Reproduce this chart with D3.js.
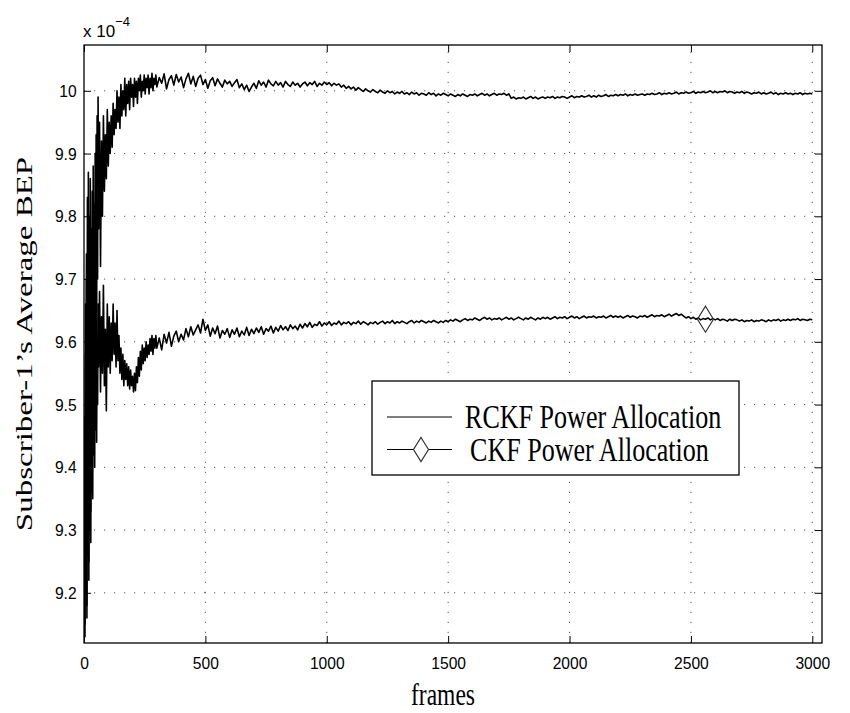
<!DOCTYPE html>
<html>
<head>
<meta charset="utf-8">
<script src="https://cdn.jsdelivr.net/npm/d3@7/dist/d3.min.js"></script>
<style>
  html, body { margin: 0; background: #fff; }
  svg { display: block; }
</style>
</head>
<body>
<svg id="chart"></svg>
<script>
// sample frames: dense at the start where the averages swing, sparser later
const frames = [].concat(d3.range(0, 60, 2), d3.range(60, 300, 4), d3.range(300, 3001, 10));

// Subscriber-1 average BEP (x 1e-4)
const rckf = [
  9.12, 9.48, 9.15, 9.66, 9.22, 9.74, 9.18, 9.83, 9.30, 9.87, 9.25, 9.80, 9.40, 9.86, 9.33,
  9.78, 9.52, 9.84, 9.45, 9.88, 9.58, 9.82, 9.50, 9.90, 9.62, 9.93, 9.60, 9.96, 9.70, 9.99,
  9.78, 9.95, 9.72, 9.92, 9.80, 9.96, 9.84, 9.93, 9.86, 9.97, 9.88, 9.95, 9.90, 9.96, 9.91,
  9.98, 9.93, 9.97, 9.94, 10.00, 9.95, 9.99, 9.94, 10.01, 9.96, 10.00, 9.97, 10.02, 9.96, 10.01,
  9.98, 10.015, 9.97, 10.02, 9.99, 10.01, 9.975, 10.02, 9.99, 10.015, 9.98, 10.02, 10.00, 10.025, 9.99,
  10.015, 10.00, 10.025, 9.995, 10.02, 10.005, 10.025, 9.995, 10.02, 10.005, 10.028, 10.00, 10.02, 10.01, 10.025,
  10.006, 10.021, 10.012, 10.027, 10.003, 10.018, 10.024, 10.009, 10.026, 10.014,
  10.022, 10.005, 10.019, 10.028, 10.011, 10.023, 10.007, 10.02, 10.025, 10.01,
  10.018, 10.004, 10.016, 10.021, 10.008, 10.019, 10.012, 10.006, 10.017, 10.011,
  10.015, 10.007, 10.013, 10.018, 10.005, 10.011, 10.002, 10.009, 9.999, 10.006,
  10.012, 10.004, 10.016, 10.009, 10.014, 10.006, 10.017, 10.011, 10.008, 10.015,
  10.009, 10.013, 10.006, 10.015, 10.01, 10.007, 10.014, 10.009, 10.012, 10.006,
  10.011, 10.014, 10.008, 10.013, 10.01, 10.015, 10.007, 10.012, 10.009, 10.014,
  10.01, 10.013, 10.008, 10.012, 10.009, 10.011, 10.006, 10.009, 10.004, 10.007,
  10.003, 10.006, 10.001, 10.005, 10.002, 9.999, 10.003, 10.0, 9.998, 10.002,
  9.999, 9.997, 10.001, 9.998, 9.996, 10.0, 9.997, 9.999, 9.995, 9.998,
  9.996, 9.999, 9.995, 9.997, 9.994, 9.998, 9.995, 9.997, 9.993, 9.996,
  9.995, 9.993, 9.997, 9.994, 9.996, 9.992, 9.995, 9.993, 9.996, 9.994,
  9.992, 9.995, 9.993, 9.991, 9.994, 9.992, 9.995, 9.993, 9.991, 9.994,
  9.993, 9.995, 9.992, 9.994, 9.996, 9.993, 9.995, 9.992, 9.994, 9.996,
  9.993, 9.995, 9.994, 9.996, 9.993, 9.995, 9.988, 9.99, 9.987, 9.989,
  9.988, 9.99, 9.987, 9.989, 9.991, 9.988, 9.99, 9.987, 9.989, 9.99,
  9.988, 9.99, 9.989, 9.991, 9.988, 9.99, 9.989, 9.991, 9.99, 9.988,
  9.99, 9.992, 9.989, 9.991, 9.99, 9.992, 9.99, 9.991, 9.993, 9.99,
  9.992, 9.99, 9.993, 9.991, 9.992, 9.994, 9.991, 9.993, 9.992, 9.994,
  9.992, 9.994, 9.993, 9.995, 9.992, 9.994, 9.993, 9.995, 9.993, 9.994,
  9.995, 9.993, 9.995, 9.994, 9.996, 9.994, 9.995, 9.997, 9.994, 9.996,
  9.995, 9.997, 9.995, 9.996, 9.998, 9.995, 9.997, 9.996, 9.998, 9.996,
  9.997, 9.999, 9.996, 9.998, 9.997, 9.999, 9.997, 9.998, 10.0, 9.997,
  9.999, 9.997, 9.999, 9.998, 10.0, 9.997, 9.999, 9.998, 9.996, 9.998,
  9.997, 9.999, 9.996, 9.998, 9.997, 9.995, 9.997, 9.996, 9.998, 9.995,
  9.997, 9.995, 9.996, 9.998, 9.995, 9.997, 9.994, 9.996, 9.995, 9.997,
  9.995, 9.996, 9.994, 9.996, 9.995, 9.997, 9.994, 9.996, 9.995, 9.996,
  9.995
];

const ckf = [
  9.14, 9.40, 9.13, 9.58, 9.20, 9.70, 9.16, 9.62, 9.26, 9.76, 9.22, 9.68, 9.30, 9.72, 9.28,
  9.66, 9.36, 9.74, 9.35, 9.64, 9.42, 9.70, 9.40, 9.62, 9.46, 9.68, 9.44, 9.60, 9.50, 9.66,
  9.56, 9.68, 9.52, 9.64, 9.55, 9.69, 9.53, 9.62, 9.49, 9.66, 9.56, 9.64, 9.55, 9.63, 9.57,
  9.66, 9.58, 9.63, 9.56, 9.65, 9.57, 9.61, 9.55, 9.59, 9.54, 9.58, 9.53, 9.57, 9.54, 9.565,
  9.53, 9.56, 9.525, 9.555, 9.53, 9.545, 9.52, 9.55, 9.522, 9.56, 9.535, 9.575, 9.545, 9.585, 9.555,
  9.595, 9.565, 9.59, 9.57, 9.60, 9.575, 9.595, 9.58, 9.605, 9.585, 9.61, 9.58, 9.605, 9.59, 9.61,
  9.59, 9.606, 9.587, 9.612, 9.598, 9.615, 9.593, 9.609, 9.617, 9.6,
  9.612, 9.603, 9.621, 9.608, 9.624, 9.611, 9.619, 9.627, 9.614, 9.636,
  9.618, 9.627, 9.609, 9.622, 9.613, 9.625, 9.606, 9.618, 9.612, 9.621,
  9.607, 9.619, 9.612, 9.622, 9.608, 9.617, 9.611, 9.623, 9.61, 9.62,
  9.613, 9.622, 9.615, 9.624, 9.612, 9.621, 9.617, 9.625, 9.614, 9.623,
  9.617, 9.626, 9.619, 9.624, 9.618, 9.627, 9.621, 9.625, 9.619, 9.628,
  9.622, 9.629, 9.624, 9.631, 9.623, 9.628, 9.626, 9.632, 9.625, 9.63,
  9.627, 9.632, 9.626, 9.63, 9.628, 9.633, 9.627, 9.631, 9.629, 9.632,
  9.627, 9.631, 9.629, 9.633, 9.628, 9.632, 9.63, 9.627, 9.631, 9.629,
  9.632, 9.628, 9.631, 9.633, 9.629, 9.632, 9.63, 9.634, 9.629, 9.632,
  9.63, 9.633, 9.631, 9.629, 9.632, 9.634, 9.63, 9.633, 9.631, 9.634,
  9.632, 9.63, 9.633, 9.631, 9.634, 9.632, 9.63, 9.633, 9.631, 9.634,
  9.632, 9.635, 9.633, 9.636, 9.634, 9.632, 9.635, 9.637, 9.634, 9.636,
  9.635, 9.638, 9.636, 9.634, 9.637, 9.639, 9.636, 9.638, 9.635, 9.637,
  9.636, 9.638, 9.635, 9.637, 9.639, 9.636, 9.638, 9.635, 9.637, 9.639,
  9.637, 9.635, 9.638, 9.636, 9.639, 9.637, 9.635, 9.638, 9.636, 9.639,
  9.637, 9.639, 9.636, 9.638, 9.64, 9.637, 9.639, 9.638, 9.64, 9.637,
  9.639, 9.641, 9.638, 9.64, 9.637, 9.639, 9.641, 9.638, 9.64, 9.639,
  9.641, 9.638, 9.64, 9.639, 9.641, 9.638, 9.64, 9.642, 9.639, 9.641,
  9.639, 9.641, 9.638, 9.64, 9.642, 9.639, 9.641, 9.64, 9.638, 9.641,
  9.64, 9.642, 9.639, 9.641, 9.643, 9.64, 9.642, 9.641, 9.643, 9.64,
  9.642, 9.644, 9.641, 9.643, 9.645, 9.642, 9.644, 9.641, 9.638, 9.64,
  9.637, 9.639, 9.636, 9.638, 9.635, 9.637, 9.636, 9.638, 9.635, 9.637,
  9.635, 9.637, 9.634, 9.636, 9.635, 9.633, 9.636, 9.634, 9.636, 9.635,
  9.633, 9.635, 9.632, 9.634, 9.633, 9.635, 9.632, 9.634, 9.633, 9.635,
  9.634, 9.632, 9.635, 9.633, 9.635, 9.634, 9.636, 9.633, 9.635, 9.634,
  9.636, 9.634, 9.636, 9.635, 9.637, 9.634, 9.636, 9.635, 9.634, 9.636,
  9.635
];

// matlab puts one marker on the CKF curve
const ckfMarkerFrames = [2560];

const xTicks = [0, 500, 1000, 1500, 2000, 2500, 3000];
const xTickLabels = ['0', '500', '1000', '1500', '2000', '2500', '3000'];
const yTicks = [9.2, 9.3, 9.4, 9.5, 9.6, 9.7, 9.8, 9.9, 10];
const yTickLabels = ['9.2', '9.3', '9.4', '9.5', '9.6', '9.7', '9.8', '9.9', '10'];
const legendLabels = ['RCKF Power Allocation', 'CKF Power Allocation'];

// layout
const W = 850, H = 713;
const plot = {left: 84, right: 822, top: 45, bottom: 643};
const xLim = [0, 3040], yLim = [9.12, 10.073];
const SERIF = '"Liberation Serif", "Times New Roman", serif';
const SANS = '"Liberation Sans", Arial, Helvetica, sans-serif';

const svg = d3.select('#chart').attr('width', W).attr('height', H);

const x = d3.scaleLinear().domain(xLim).range([plot.left, plot.right]);
const y = d3.scaleLinear().domain(yLim).range([plot.bottom, plot.top]);

// dotted grid
const grid = svg.append('g').attr('stroke', '#555').attr('stroke-width', 1)
    .attr('stroke-dasharray', '1.2,8.8').attr('fill', 'none');
grid.selectAll('.gx').data(xTicks.slice(1)).enter().append('line')
    .attr('x1', d => x(d)).attr('x2', d => x(d))
    .attr('y1', plot.bottom).attr('y2', plot.top);
grid.selectAll('.gy').data(yTicks).enter().append('line')
    .attr('x1', plot.left).attr('x2', plot.right)
    .attr('y1', d => y(d)).attr('y2', d => y(d));

// curves
const line = d3.line().x(d => x(d[0])).y(d => y(d[1]));
svg.append('clipPath').attr('id', 'clip').append('rect')
    .attr('x', plot.left).attr('y', plot.top)
    .attr('width', plot.right - plot.left).attr('height', plot.bottom - plot.top);

const curves = svg.append('g').attr('clip-path', 'url(#clip)');
[rckf, ckf].forEach(vals => {
    curves.append('path')
        .datum(frames.map((f, i) => [f, vals[i]]))
        .attr('d', line)
        .attr('fill', 'none')
        .attr('stroke', '#000')
        .attr('stroke-width', 1.6)
        .attr('stroke-linejoin', 'round');
});

// diamond marker
const diamond = (cx, cy, w, h) =>
    `M${cx},${cy - h / 2}L${cx + w / 2},${cy}L${cx},${cy + h / 2}L${cx - w / 2},${cy}Z`;
svg.selectAll('.mk').data(ckfMarkerFrames).enter().append('path')
    .attr('d', f => diamond(x(f), y(ckf[frames.indexOf(f)]), 16, 26))
    .attr('fill', 'none').attr('stroke', '#333').attr('stroke-width', 1.2);

// axes, ticks pointing inward
const axisG = svg.append('g');
const bottomAxis = d3.axisBottom(x).tickValues(xTicks).tickFormat((d, i) => xTickLabels[i])
    .tickSizeInner(-7).tickSizeOuter(0).tickPadding(14);
const leftAxis = d3.axisLeft(y).tickValues(yTicks).tickFormat((d, i) => yTickLabels[i])
    .tickSizeInner(-7).tickSizeOuter(0).tickPadding(8);
const topAxis = d3.axisTop(x).tickValues(xTicks).tickFormat('').tickSizeInner(-7).tickSizeOuter(0);
const rightAxis = d3.axisRight(y).tickValues(yTicks).tickFormat('').tickSizeInner(-7).tickSizeOuter(0);

axisG.append('g').attr('transform', `translate(0,${plot.bottom})`).call(bottomAxis);
axisG.append('g').attr('transform', `translate(${plot.left},0)`).call(leftAxis);
axisG.append('g').attr('transform', `translate(0,${plot.top})`).call(topAxis);
axisG.append('g').attr('transform', `translate(${plot.right},0)`).call(rightAxis);
axisG.selectAll('.domain').remove();
axisG.selectAll('.tick line').attr('stroke', '#000').attr('stroke-width', 1);
axisG.selectAll('.tick text')
    .attr('font-family', SANS).attr('font-size', 17).attr('fill', '#000')
    .attr('transform', 'scale(0.92,1)');

svg.append('rect')
    .attr('x', plot.left).attr('y', plot.top)
    .attr('width', plot.right - plot.left).attr('height', plot.bottom - plot.top)
    .attr('fill', 'none').attr('stroke', '#000').attr('stroke-width', 1.3);

// exponent
const expo = svg.append('text').attr('font-family', SANS).attr('font-size', 17)
    .attr('x', plot.left - 1).attr('y', 37);
expo.append('tspan').text('x 10');
expo.append('tspan').attr('font-size', 13).attr('dy', -11).text('\u22124');

// axis labels
svg.append('text')
    .attr('transform', 'translate(443,705) scale(0.76,1)')
    .attr('text-anchor', 'middle').attr('font-family', SERIF).attr('font-size', 31)
    .text('frames');
svg.append('text')
    .attr('transform', `translate(32,${(plot.top + plot.bottom) / 2}) scale(0.7,1) rotate(-90)`)
    .attr('text-anchor', 'middle').attr('font-family', SERIF).attr('font-size', 33)
    .text('Subscriber-1\u2019s Average BEP');

// legend
const lg = {x: 372, y: 381, w: 367, h: 94, row: 32.5};
const legend = svg.append('g');
legend.append('rect').attr('x', lg.x).attr('y', lg.y).attr('width', lg.w).attr('height', lg.h)
    .attr('fill', '#fff').attr('stroke', '#000').attr('stroke-width', 1.3);
legendLabels.forEach((lab, i) => {
    const cy = lg.y + 36 + i * lg.row;
    legend.append('line').attr('x1', lg.x + 15).attr('x2', lg.x + 80)
        .attr('y1', cy).attr('y2', cy).attr('stroke', '#000').attr('stroke-width', 1.2);
    if (i === 1) {
        legend.append('path').attr('d', diamond(lg.x + 49, cy, 15, 24))
            .attr('fill', '#fff').attr('stroke', '#333').attr('stroke-width', 1.2);
    }
    legend.append('text')
        .attr('transform', `translate(${lg.x + 93 + (i === 1 ? 5 : 0)},${cy + 11}) scale(0.79,1)`)
        .attr('font-family', SERIF).attr('font-size', 33).text(lab);
});
</script>
</body>
</html>
